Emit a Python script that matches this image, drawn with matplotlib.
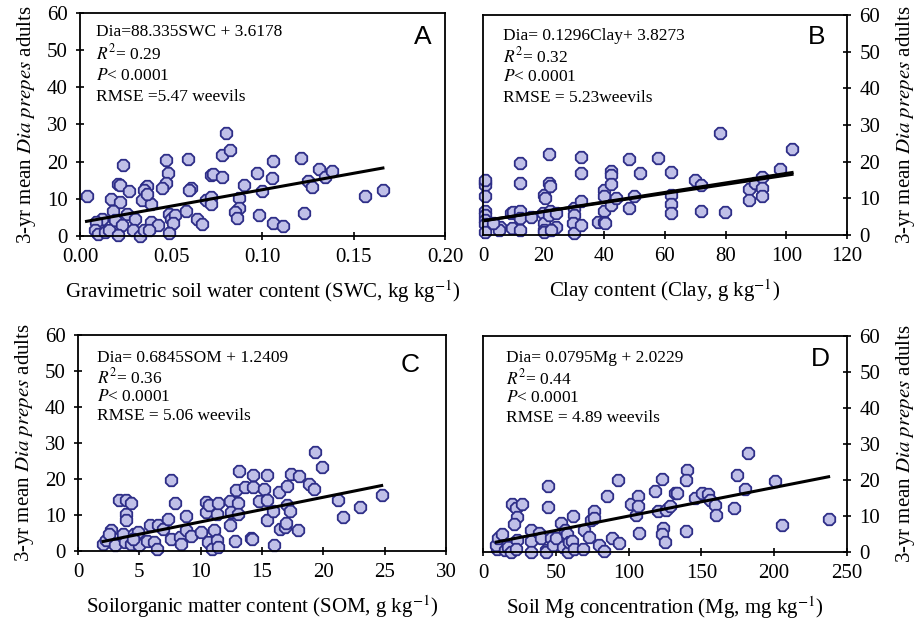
import numpy as np
import matplotlib
matplotlib.use("Agg")
import matplotlib.pyplot as plt

plt.rcParams['font.family'] = ['Liberation Serif', 'DejaVu Serif']
plt.rcParams['mathtext.fontset'] = 'stix'

# Panel A: gravimetric soil water content
swc = [0.0036, 0.0236, 0.021, 0.022, 0.027, 0.017, 0.022, 0.018, 0.026, 0.030,
       0.012, 0.009, 0.008, 0.010, 0.0136, 0.016, 0.019, 0.023, 0.021, 0.029,
       0.033, 0.035, 0.039, 0.043, 0.038, 0.036, 0.037, 0.035, 0.034, 0.039,
       0.037, 0.047, 0.048, 0.047, 0.045, 0.049, 0.050, 0.052, 0.051, 0.049,
       0.059, 0.061, 0.060, 0.058, 0.064, 0.067, 0.072, 0.073, 0.078, 0.069,
       0.072, 0.072, 0.078, 0.080, 0.082, 0.087, 0.087, 0.085, 0.086, 0.090,
       0.097, 0.100, 0.098, 0.105, 0.106, 0.106, 0.111, 0.121, 0.123, 0.125,
       0.127, 0.131, 0.134, 0.138, 0.156, 0.166]
dia_a = [10.7, 19.2, 14.1, 13.7, 12.1, 9.9, 9.2, 6.7, 6.0, 4.7,
         4.7, 3.8, 1.5, 0.6, 1.1, 1.7, 4.2, 2.9, 0.2, 1.7,
         0.0, 1.7, 3.8, 2.9, 1.5, 13.2, 13.4, 12.3, 9.6, 8.7,
         11.4, 20.4, 17.0, 14.3, 12.8, 6.0, 4.7, 5.6, 3.5, 0.8,
         20.6, 12.8, 12.3, 6.7, 4.7, 3.3, 16.4, 16.8, 15.9, 9.6,
         10.5, 8.5, 21.8, 27.6, 23.1, 10.1, 7.4, 6.5, 4.9, 13.7,
         17.0, 12.1, 5.6, 15.5, 20.1, 3.5, 2.7, 21.1, 6.3, 14.7,
         13.2, 18.0, 15.9, 17.4, 10.7, 12.5]

# Panel B: clay content
clay = [0.8, 0.8, 0.8, 0.8, 0.8, 0.8, 0.8, 0.8, 0.8, 5.5,
        5.3, 3.3, 9.4, 9.9, 9.7, 12.1, 12.1, 12.1, 12.3, 12.3,
        16.0, 20.0, 20.4, 19.8, 20.0, 20.0, 20.0, 21.8, 21.8, 22.0,
        22.0, 21.8, 24.0, 24.0, 22.5, 30.0, 30.0, 29.7, 30.0, 32.2,
        32.2, 32.2, 32.2, 38.0, 39.9, 40.0, 40.0, 40.0, 40.2, 42.1,
        42.1, 42.1, 42.1, 44.0, 48.1, 48.1, 49.9, 51.8, 57.8, 61.9,
        61.9, 61.9, 61.9, 69.9, 71.8, 71.8, 78.0, 79.8, 87.8, 87.8,
        89.8, 92.0, 92.0, 92.0, 98.0, 101.9]
dia_b = [14.5, 13.6, 10.6, 6.6, 5.5, 4.1, 3.0, 0.9, 15.0, 2.3,
         1.4, 3.4, 5.9, 6.4, 1.8, 19.5, 14.3, 6.6, 4.5, 1.4,
         4.8, 10.9, 10.0, 5.9, 3.4, 1.4, 0.9, 22.1, 14.1, 13.4,
         6.6, 5.5, 5.9, 2.3, 1.4, 7.3, 5.5, 3.2, 0.6, 21.2,
         16.8, 9.4, 2.7, 3.6, 12.3, 10.5, 6.6, 3.6, 3.2, 17.5,
         16.4, 13.8, 8.2, 10.0, 20.6, 7.3, 10.5, 16.8, 20.9, 17.3,
         10.9, 8.5, 5.9, 15.0, 13.6, 6.6, 27.9, 6.3, 12.5, 9.5,
         14.3, 15.9, 12.9, 10.6, 17.9, 23.5]

# Panel C: soil organic matter
som = [2.04, 2.3, 2.7, 2.5, 3.0, 3.3, 3.9, 3.9, 3.9, 4.3,
       3.7, 3.8, 4.35, 4.6, 4.97, 4.9, 4.5, 5.6, 5.9, 6.2,
       6.4, 6.5, 6.9, 7.35, 7.6, 7.9, 7.6, 8.3, 8.4, 8.8,
       8.8, 9.2, 10.0, 10.4, 10.4, 10.7, 10.6, 10.9, 11.1, 11.3,
       11.4, 11.3, 11.4, 12.4, 12.4, 12.5, 12.9, 13.05, 13.1, 13.05,
       12.8, 13.6, 14.3, 14.3, 14.1, 14.2, 14.76, 15.2, 15.4, 15.4,
       15.4, 15.9, 16.0, 16.4, 16.5, 16.9, 16.99, 17.05, 17.0, 17.3,
       17.4, 17.9, 18.0, 18.8, 19.2, 19.3, 19.85, 21.2, 21.6, 23.0,
       24.75]
dia_c = [2.0, 3.0, 5.8, 4.8, 1.6, 14.1, 14.3, 10.4, 8.7, 13.4,
         4.6, 2.5, 2.0, 4.8, 1.6, 5.3, 3.4, 2.8, 7.1, 2.5,
         0.6, 7.1, 6.2, 9.0, 19.7, 13.4, 3.4, 3.9, 2.0, 9.6,
         5.8, 4.1, 5.3, 13.6, 10.9, 12.7, 2.5, 0.6, 5.9, 10.4,
         13.2, 3.0, 1.1, 7.1, 13.9, 10.9, 16.9, 13.4, 22.3, 10.2,
         2.8, 17.8, 21.2, 17.8, 3.7, 3.2, 13.9, 17.1, 14.3, 21.2,
         8.7, 11.0, 1.6, 16.4, 6.2, 6.7, 7.8, 18.0, 12.7, 11.1,
         21.5, 5.8, 20.9, 18.6, 17.3, 27.6, 23.4, 14.3, 9.5, 12.1,
         15.5]

# Panel D: soil Mg concentration
mg = [9.9, 9.2, 10.6, 13.3, 15.2, 17.5, 19.1, 20.2, 22.5, 23.7,
      21.4, 23.7, 22.5, 27.1, 32.9, 32.9, 32.9, 38.6, 39.8, 43.2,
      43.2, 45.0, 44.8, 46.6, 47.8, 50.5, 53.5, 55.1, 56.5, 57.4,
      58.1, 59.3, 61.1, 62.0, 62.7, 68.9, 69.6, 73.1, 74.2, 76.5,
      76.5, 80.0, 83.4, 85.0, 88.7, 92.6, 93.3, 101.8, 104.8, 106.4,
      106.4, 107.1, 117.9, 120.2, 123.2, 123.6, 123.2, 124.8, 125.9, 128.2,
      131.7, 133.3, 139.7, 140.1, 139.7, 145.5, 150.7, 154.6, 155.8, 159.2,
      160.4, 172.3, 174.2, 180.0, 182.2, 200.6, 205.6, 237.4]
dia_d = [0.9, 1.9, 3.8, 4.9, 0.5, 1.4, 0.0, 13.2, 12.3, 9.6,
         7.8, 3.3, 0.8, 13.2, 6.1, 3.0, 0.0, 5.2, 3.8, 0.5,
         0.0, 18.4, 12.5, 3.8, 1.9, 3.8, 8.0, 1.4, 6.1, 4.9,
         0.0, 2.8, 3.0, 9.9, 0.9, 0.9, 6.1, 4.3, 9.0, 11.3,
         9.5, 1.9, 0.2, 15.6, 3.8, 20.0, 2.4, 13.4, 10.4, 15.6,
         12.8, 5.2, 17.0, 11.5, 20.3, 6.8, 4.9, 2.8, 11.8, 12.8,
         16.5, 16.3, 5.9, 22.9, 20.0, 15.1, 16.5, 16.1, 14.4, 13.0,
         10.2, 12.1, 21.3, 17.5, 27.4, 19.7, 7.6, 9.3]

# regression coefficients (slope, intercept) printed on each panel
coef_a = (88.335, 3.6178)
coef_b = (0.1296, 3.8273)
coef_b2 = (0.124, 3.9)   # second, slightly offset trend line seen in panel B
coef_c = (0.6845, 1.2409)
coef_d = (0.0795, 2.0229)

stats_a = ["Dia=88.335SWC + 3.6178", "$R^2$= 0.29", "$P$< 0.0001", "RMSE =5.47 weevils"]
stats_b = ["Dia= 0.1296Clay+ 3.8273", "$R^2$= 0.32", "$P$< 0.0001", "RMSE = 5.23weevils"]
stats_c = ["Dia= 0.6845SOM + 1.2409", "$R^2$= 0.36", "$P$< 0.0001", "RMSE = 5.06 weevils"]
stats_d = ["Dia= 0.0795Mg + 2.0229", "$R^2$= 0.44", "$P$< 0.0001", "RMSE = 4.89 weevils"]

ylab = "3-yr mean $\\mathit{Dia\\ prepes}$ adults"

FACE = '#C0C0E8'
EDGE = '#2D2D87'

fig = plt.figure(figsize=(9.18, 6.2), dpi=100)
axA = fig.add_axes([0.0871, 0.6194, 0.3976, 0.3597])
axB = fig.add_axes([0.5261, 0.6210, 0.3965, 0.3548])
axC = fig.add_axes([0.0850, 0.1113, 0.4009, 0.3484])
axD = fig.add_axes([0.5261, 0.1097, 0.3965, 0.3484])


def panel(ax, x, y, coefs, stats, letter, xlim, xticks, xfmt, xlabel, right,
          tx, ty, lx, ly, dy):
    ax.scatter(x, y, s=80, marker='8', facecolor=FACE, edgecolor=EDGE,
               linewidth=1.3, zorder=2, clip_on=False)
    xs = np.array([min(x), max(x)])
    for m, b in coefs:
        ax.plot(xs, m * xs + b, color='black', lw=2.2, zorder=3)
    ax.set_xlim(*xlim)
    ax.set_ylim(0, 60)
    ax.set_xticks(xticks)
    ax.set_xticklabels([xfmt.format(t) for t in xticks])
    ax.set_yticks(range(0, 61, 10))
    ax.tick_params(labelsize=15, direction='inout', length=6, width=1.2, pad=6)
    for sp in ax.spines.values():
        sp.set_linewidth(1.3)
    ax.set_xlabel(xlabel, fontsize=15, labelpad=8)
    if right:
        ax.yaxis.tick_right()
        ax.yaxis.set_label_position('right')
        ax.set_ylabel(ylab, fontsize=15, labelpad=10)
    else:
        ax.set_ylabel(ylab, fontsize=15, labelpad=6)
    for i, s in enumerate(stats):
        ax.text(tx, ty - i * dy, s, transform=ax.transAxes, fontsize=12.5,
                va='center', ha='left')
    ax.text(lx, ly, letter, transform=ax.transAxes, fontsize=19,
            family='Liberation Sans', ha='center', va='center')


panel(axA, swc, dia_a, [coef_a], stats_a, 'A', (0, 0.2),
      [0, 0.05, 0.10, 0.15, 0.20], "{:.2f}",
      "Gravimetric soil water content (SWC, kg kg$^{-1}$)", False,
      0.044, 0.915, 0.94, 0.89, 0.098)
panel(axB, clay, dia_b, [coef_b, coef_b2], stats_b, 'B', (0, 120),
      list(range(0, 121, 20)), "{:d}",
      "Clay content (Clay, g kg$^{-1}$)", True,
      0.055, 0.905, 0.918, 0.90, 0.094)
panel(axC, som, dia_c, [coef_c], stats_c, 'C', (0, 30),
      list(range(0, 31, 5)), "{:d}",
      "Soilorganic matter content (SOM, g kg$^{-1}$)", False,
      0.052, 0.894, 0.902, 0.861, 0.09)
panel(axD, mg, dia_d, [coef_d], stats_d, 'D', (0, 250),
      list(range(0, 251, 50)), "{:d}",
      "Soil Mg concentration (Mg, mg kg$^{-1}$)", True,
      0.063, 0.898, 0.926, 0.894, 0.093)

fig.savefig("out.png", dpi=100)
